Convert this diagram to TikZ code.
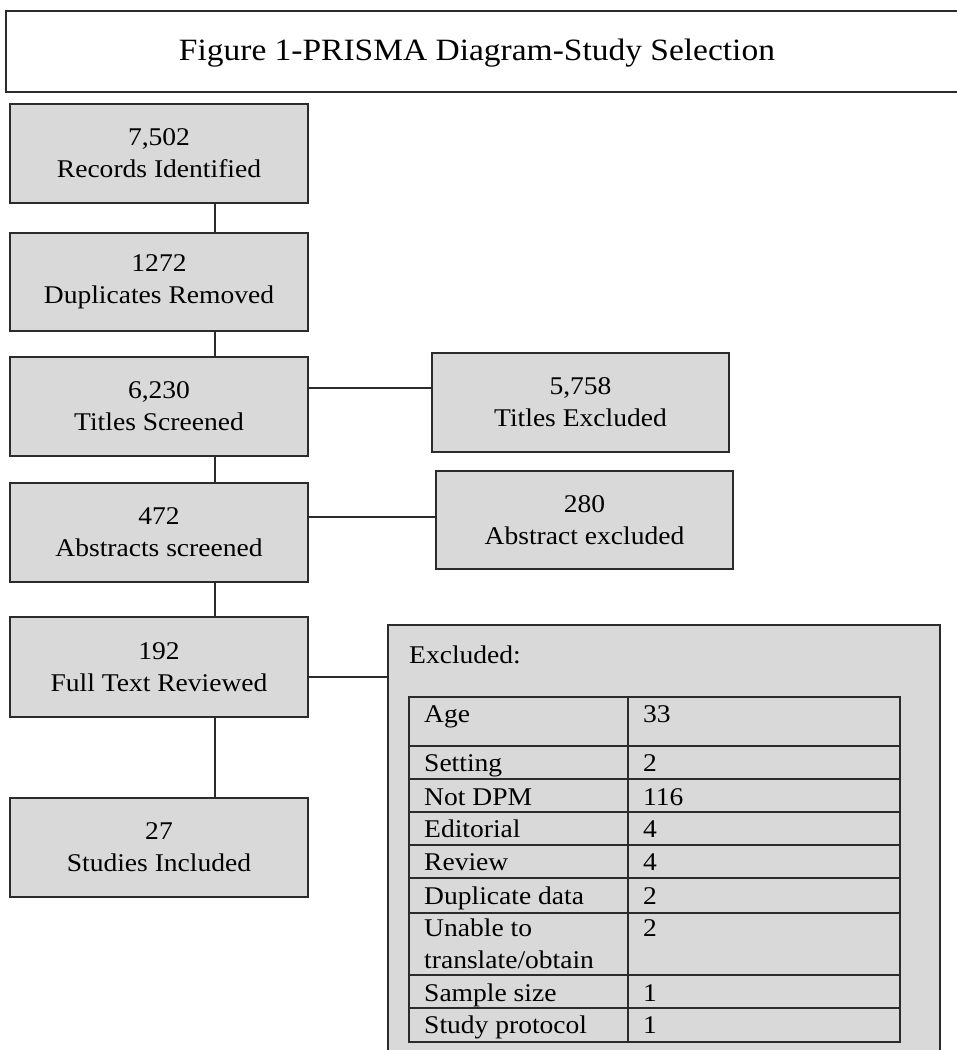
\documentclass[tikz,border=0pt]{standalone}
\usepackage{fontspec}
\setmainfont{Liberation Serif}[FakeStretch=1.08]
\definecolor{boxgrey}{HTML}{D9D9D9}
\definecolor{edge}{HTML}{2B2B2B}
\begin{document}
\begin{tikzpicture}[x=1pt,y=-1pt,
  frame/.style={draw=edge, line width=1.7pt, inner sep=0pt, outer sep=0pt},
  box/.style={frame, fill=boxgrey, minimum width=298pt, align=center,
              font=\fontsize{25.5}{32}\selectfont},
  link/.style={draw=edge, line width=1.6pt},
  grid/.style={draw=edge, line width=1.5pt},
  cell/.style={anchor=base west, inner sep=0pt,
               font=\fontsize{25.5}{32}\selectfont}]
\useasboundingbox[fill=white] (0,0) rectangle (957,1050);

% title
\node[frame, fill=white, minimum width=959pt, minimum height=81pt] (title) at (485.5,51.5) {};
\node[inner sep=0pt, font=\fontsize{31}{36}\selectfont] (titletext) at (477,53) {Figure 1-PRISMA Diagram-Study Selection};

% main column
\node[box, minimum height=99pt] (b1) at (159,153.5) {7,502\\Records Identified};
\node[box, minimum height=98pt] (b2) at (159,282) {1272\\Duplicates Removed};
\node[box, minimum height=99pt] (b3) at (159,406.5) {6,230\\Titles Screened};
\node[box, minimum height=99pt] (b4) at (159,532.5) {472\\Abstracts screened};
\node[box, minimum height=100pt] (b5) at (159,667) {192\\Full Text Reviewed};
\node[box, minimum height=99pt] (b6) at (159,847.5) {27\\Studies Included};

% side boxes
\node[box, minimum width=297pt, minimum height=99pt] (r1) at (580.5,402.5) {5,758\\Titles Excluded};
\node[box, minimum width=297pt, minimum height=98pt] (r2) at (584.5,520) {280\\Abstract excluded};
\node[frame, fill=boxgrey, minimum width=552pt, minimum height=440pt] (excl) at (664,845) {};

% connectors
\draw[link] ([xshift=56pt]b1.south) -- ([xshift=56pt]b2.north);
\draw[link] ([xshift=56pt]b2.south) -- ([xshift=56pt]b3.north);
\draw[link] ([xshift=56pt]b3.south) -- ([xshift=56pt]b4.north);
\draw[link] ([xshift=56pt]b4.south) -- ([xshift=56pt]b5.north);
\draw[link] ([xshift=56pt]b5.south) -- ([xshift=56pt]b6.north);
\draw[link] ([yshift=18.5pt]b3.east) -- ([yshift=18.5pt]b3.east -| r1.west);
\draw[link] ([yshift=15.5pt]b4.east) -- ([yshift=15.5pt]b4.east -| r2.west);
\draw[link] ([yshift=-10pt]b5.east) -- ([yshift=-10pt]b5.east -| excl.west);

% excluded table
\node[cell] (exclhead) at (409,663) {Excluded:};
\draw[grid] (409,697) rectangle (900,1042);
\foreach \yy in {746,779,812,845,878,913,975,1008} \draw[grid] (409,\yy) -- (900,\yy);
\draw[grid] (628,697) -- (628,1042);

\node[cell] (c1a) at (424,722) {Age};            \node[cell] (c1b) at (643,722) {33};
\node[cell] (c2a) at (424,771.5) {Setting};      \node[cell] (c2b) at (643,771.5) {2};
\node[cell] (c3a) at (424,805) {Not DPM};        \node[cell] (c3b) at (643,805) {116};
\node[cell] (c4a) at (424,837) {Editorial};      \node[cell] (c4b) at (643,837) {4};
\node[cell] (c5a) at (424,870) {Review};         \node[cell] (c5b) at (643,870) {4};
\node[cell] (c6a) at (424,904) {Duplicate data}; \node[cell] (c6b) at (643,904) {2};
\node[cell] (c7a) at (424,936) {\begin{tabular}[t]{@{}l@{}}Unable to\\translate/obtain\end{tabular}};
\node[cell] (c7b) at (643,936) {2};
\node[cell] (c8a) at (424,1001) {Sample size};   \node[cell] (c8b) at (643,1001) {1};
\node[cell] (c9a) at (424,1033) {Study protocol}; \node[cell] (c9b) at (643,1033) {1};
\end{tikzpicture}
\end{document}
